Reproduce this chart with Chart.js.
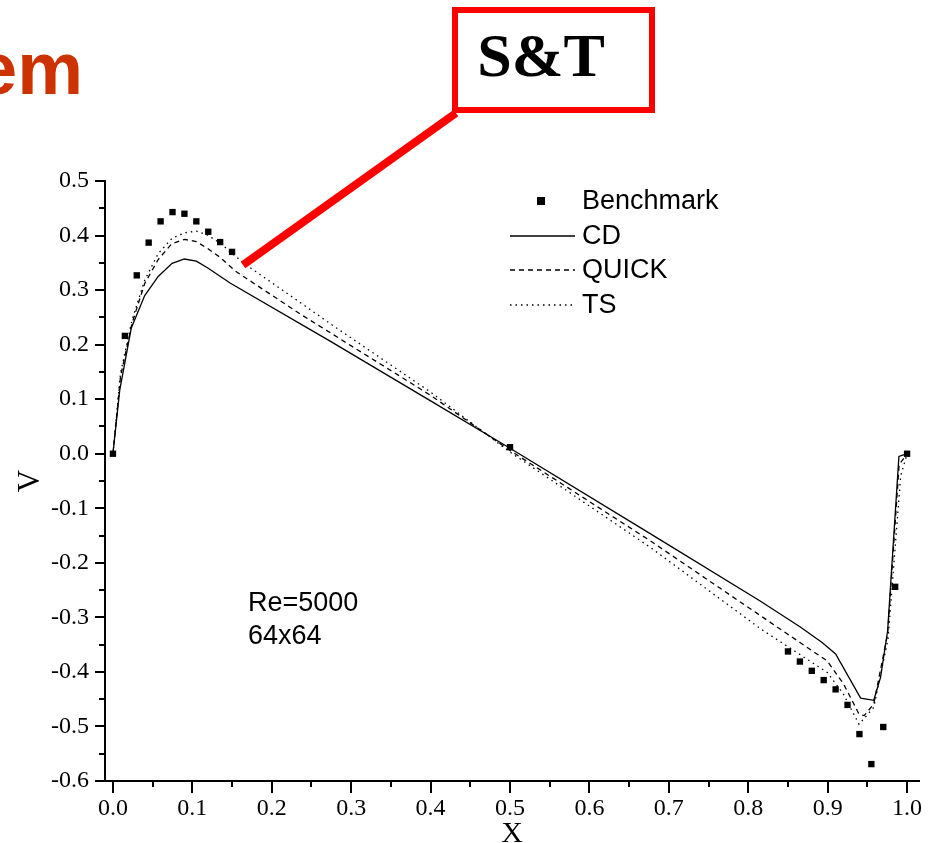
<!DOCTYPE html>
<html>
<head>
<meta charset="utf-8">
<script src="https://cdn.jsdelivr.net/npm/chart.js@4.4.1/dist/chart.umd.min.js"></script>
<style>
    html, body { margin: 0; padding: 0; background: #fff; }
    #wrap { position: relative; width: 930px; height: 843px; }
</style>
</head>
<body>
<div id="wrap"><canvas id="chart-v" width="930" height="843"></canvas></div>
<script>
// Data Start
const benchX = [0, 0.015, 0.03, 0.045, 0.06, 0.075, 0.09, 0.105, 0.12, 0.135, 0.15, 0.5,
    0.85, 0.865, 0.88, 0.895, 0.91, 0.925, 0.94, 0.955, 0.97, 0.985, 1.0];
const benchV = [0, 0.216, 0.327, 0.387, 0.426, 0.443, 0.440, 0.426, 0.407, 0.388, 0.370, 0.012,
    -0.3625, -0.381, -0.398, -0.415, -0.432, -0.4605, -0.514, -0.569, -0.501, -0.244, 0];

const cdX = [0, 0.0085, 0.023, 0.040, 0.057, 0.0745, 0.09, 0.105, 0.119, 0.148, 0.274, 0.40, 0.5,
    0.677, 0.815, 0.866, 0.893, 0.910, 0.9415, 0.958, 0.9666, 0.9755, 0.9897, 1.0];
const cdV = [0, 0.116, 0.23, 0.29, 0.325, 0.349, 0.357, 0.353, 0.341, 0.3125, 0.206, 0.097, 0.010,
    -0.147, -0.270, -0.318, -0.346, -0.367, -0.448, -0.452, -0.41, -0.3245, -0.005, 0];

const quickX = [0, 0.0095, 0.024, 0.040, 0.057, 0.074, 0.09, 0.105, 0.119, 0.135, 0.154, 0.236, 0.40, 0.5,
    0.677, 0.8155, 0.866, 0.8995, 0.92, 0.9395, 0.946, 0.958, 0.9755, 0.99, 1.0];
const quickV = [0, 0.141, 0.239, 0.312, 0.356, 0.385, 0.393, 0.389, 0.3765, 0.36, 0.335, 0.256, 0.107, 0.006,
    -0.160, -0.297, -0.347, -0.38, -0.422, -0.4775, -0.48, -0.459, -0.33, -0.02, 0];

const tsX = [0, 0.0095, 0.024, 0.040, 0.057, 0.0745, 0.09, 0.105, 0.119, 0.135, 0.165, 0.236, 0.274, 0.40, 0.5,
    0.677, 0.8155, 0.866, 0.8995, 0.92, 0.9395, 0.958, 0.976, 0.992, 1.0];
const tsV = [0, 0.147, 0.245, 0.318, 0.367, 0.395, 0.405, 0.408, 0.401, 0.386, 0.349, 0.277, 0.238, 0.113, 0.003,
    -0.172, -0.321, -0.369, -0.401, -0.441, -0.496, -0.465, -0.34, -0.04, 0];

const xTicks = [0, 0.1, 0.2, 0.3, 0.4, 0.5, 0.6, 0.7, 0.8, 0.9, 1.0];
const yTicks = [-0.6, -0.5, -0.4, -0.3, -0.2, -0.1, 0, 0.1, 0.2, 0.3, 0.4, 0.5];
const xMinor = [0.05, 0.15, 0.25, 0.35, 0.45, 0.55, 0.65, 0.75, 0.85, 0.95];
const yMinor = [-0.55, -0.45, -0.35, -0.25, -0.15, -0.05, 0.05, 0.15, 0.25, 0.35, 0.45];
// Data End

const toPoints = (xs, ys) => xs.map((x, i) => ({ x: x, y: ys[i] }));

// Minor ticks, legend and the extra annotations
const extras = {
    id: "extras",
    afterDraw(chart) {
        const ctx = chart.ctx;
        const xs = chart.scales.x;
        const ys = chart.scales.y;
        const area = chart.chartArea;

        ctx.save();
        ctx.strokeStyle = "#000";
        ctx.lineWidth = 2;
        xMinor.forEach((v) => {
            const px = Math.round(xs.getPixelForValue(v));
            ctx.beginPath();
            ctx.moveTo(px, area.bottom);
            ctx.lineTo(px, area.bottom + 6);
            ctx.stroke();
        });
        yMinor.forEach((v) => {
            const py = Math.round(ys.getPixelForValue(v));
            ctx.beginPath();
            ctx.moveTo(area.left, py);
            ctx.lineTo(area.left - 6, py);
            ctx.stroke();
        });

        // legend
        ctx.font = "27px 'Liberation Sans'";
        ctx.textBaseline = "middle";
        ctx.textAlign = "left";
        const rows = [201, 236, 270, 305];
        chart.data.datasets.forEach((ds, i) => {
            const y = rows[i];
            ctx.fillStyle = "#000";
            if (ds.showLine === false) {
                ctx.fillRect(537, y - 4, 8, 8);
            } else {
                ctx.beginPath();
                ctx.lineWidth = ds.borderWidth;
                ctx.setLineDash(ds.borderDash || []);
                ctx.moveTo(510, y);
                ctx.lineTo(575, y);
                ctx.stroke();
                ctx.setLineDash([]);
            }
            ctx.fillText(ds.label, 582, y + 1);
        });

        // case text
        ctx.font = "27px 'Liberation Sans'";
        ctx.fillText("Re=5000", 248, 604);
        ctx.fillText("64x64", 248, 637);

        // title fragment
        ctx.fillStyle = "#cc3300";
        ctx.font = "bold 74px 'Liberation Sans'";
        ctx.textAlign = "right";
        ctx.textBaseline = "alphabetic";
        ctx.fillText("em", 83, 94);

        // S&T callout
        ctx.strokeStyle = "#ff0000";
        ctx.lineWidth = 8;
        ctx.beginPath();
        ctx.moveTo(456, 113);
        ctx.lineTo(243, 265);
        ctx.stroke();
        ctx.lineWidth = 6;
        ctx.fillStyle = "#fff";
        ctx.fillRect(455, 10, 197, 100);
        ctx.strokeRect(455, 10, 197, 100);
        ctx.fillStyle = "#000";
        ctx.font = "bold 62px 'Liberation Serif'";
        ctx.textAlign = "center";
        ctx.textBaseline = "middle";
        ctx.fillText("S&T", 541, 60);
        ctx.restore();
    },
};

const canvas = document.getElementById("chart-v");

new Chart(canvas, {
    type: "scatter",
    data: {
        datasets: [
            {
                label: "Benchmark",
                data: toPoints(benchX, benchV),
                showLine: false,
                pointStyle: "rect",
                pointRadius: 4.5,
                pointBackgroundColor: "#000",
                pointBorderColor: "#000",
                pointBorderWidth: 0,
            },
            {
                label: "CD",
                data: toPoints(cdX, cdV),
                showLine: true,
                borderColor: "#000",
                borderWidth: 1.3,
                pointRadius: 0,
            },
            {
                label: "QUICK",
                data: toPoints(quickX, quickV),
                showLine: true,
                borderColor: "#000",
                borderWidth: 1.3,
                borderDash: [5, 4],
                pointRadius: 0,
            },
            {
                label: "TS",
                data: toPoints(tsX, tsV),
                showLine: true,
                borderColor: "#000",
                borderWidth: 1.3,
                borderDash: [1.5, 4],
                pointRadius: 0,
            },
        ],
    },
    options: {
        responsive: false,
        animation: false,
        devicePixelRatio: 1,
        layout: {
            padding: { top: 181, right: 11, left: 0, bottom: 0 },
        },
        plugins: {
            legend: { display: false },
            tooltip: { enabled: false },
        },
        scales: {
            x: {
                type: "linear",
                min: -0.01,
                max: 1.015,
                afterBuildTicks: (scale) => {
                    scale.ticks = xTicks.map((v) => ({ value: v }));
                },
                afterFit: (scale) => {
                    scale.height = 62;
                },
                ticks: {
                    color: "#000",
                    padding: 1,
                    maxRotation: 0,
                    font: { family: "'Liberation Serif'", size: 24 },
                    callback: (v) => Number(v).toFixed(1),
                },
                grid: {
                    drawOnChartArea: false,
                    drawTicks: true,
                    tickLength: 12,
                    color: "#000",
                    lineWidth: 2,
                },
                border: { display: true, color: "#000", width: 2 },
                title: {
                    display: true,
                    text: "X",
                    color: "#000",
                    font: { family: "'Liberation Serif'", size: 30, lineHeight: 0.6 },
                    padding: { top: 0, bottom: 0 },
                },
            },
            y: {
                type: "linear",
                min: -0.6,
                max: 0.5,
                afterBuildTicks: (scale) => {
                    scale.ticks = yTicks.map((v) => ({ value: v }));
                },
                afterFit: (scale) => {
                    scale.width = 105;
                },
                ticks: {
                    color: "#000",
                    padding: 6,
                    font: { family: "'Liberation Serif'", size: 24 },
                    callback: (v) => Number(v).toFixed(1),
                },
                grid: {
                    drawOnChartArea: false,
                    drawTicks: true,
                    tickLength: 10,
                    color: "#000",
                    lineWidth: 2,
                },
                border: { display: true, color: "#000", width: 2 },
                title: {
                    display: true,
                    text: "V",
                    color: "#000",
                    font: { family: "'Liberation Serif'", size: 31, lineHeight: 1 },
                    padding: { top: 15, bottom: 0 },
                },
            },
        },
    },
    plugins: [extras],
});
</script>
</body>
</html>
